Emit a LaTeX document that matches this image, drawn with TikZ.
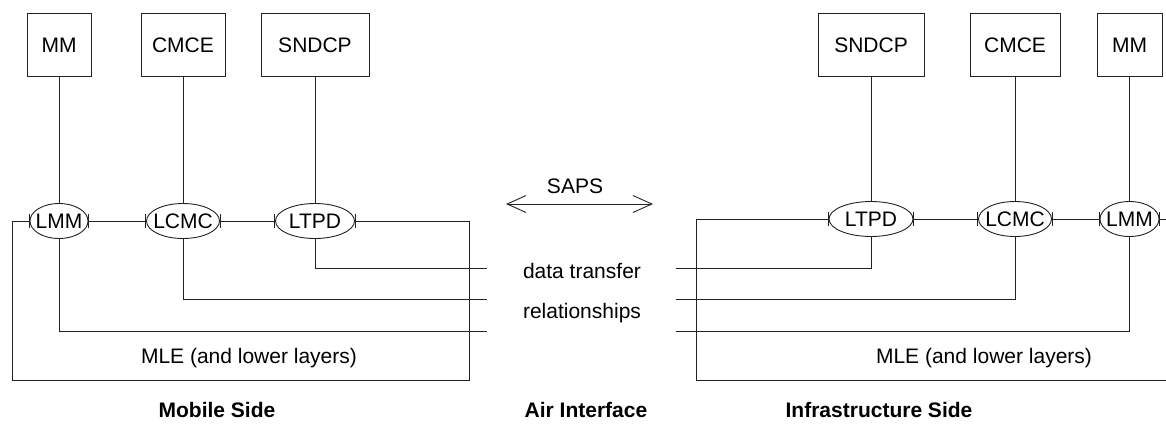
\documentclass[tikz,border=0pt]{standalone}
\usepackage{fontspec}
\setmainfont{Liberation Sans}
\usetikzlibrary{arrows.meta,shapes.geometric}
\definecolor{lineGray}{HTML}{222222}

\begin{document}
\begin{tikzpicture}[x=1pt, y=-1pt, line width=0.9pt, draw=lineGray,
    every node/.style={font=\fontsize{21}{25}\selectfont},
    layer/.style={draw=lineGray, inner sep=0pt, minimum height=63},
    lent/.style={draw=lineGray, ellipse, inner sep=0pt, minimum height=35},
    side/.style={font=\fontsize{21}{25}\selectfont\bfseries},
    bars/.style={{Bar[width=14pt]}-{Bar[width=14pt]}},
    lbar/.style={{Bar[width=14pt]}-},
    saps/.style={{Straight Barb[length=19pt,width=17pt]}-{Straight Barb[length=19pt,width=17pt]}}]
  \useasboundingbox (0,0) rectangle (1166,426);

  \foreach \nm/\x/\w/\lab in {mmA/59/64/MM, cmceA/183/84/CMCE, sndcpA/315/108/SNDCP,
      sndcpB/871/106/SNDCP, cmceB/1015/90/CMCE, mmB/1129.5/65/MM}
    \node[layer, minimum width=\w] (\nm) at (\x,45) {\lab};
  \foreach \nm/\x/\y/\w/\lab in {lmmA/59/221/58/LMM, lcmcA/183/221/73/LCMC, ltpdA/315/221/79/LTPD,
      ltpdB/871/219/84/LTPD, lcmcB/1015/219/73/LCMC, lmmB/1129.5/219/59/LMM}
    \node[lent, minimum width=\w] (\nm) at (\x,\y) {\makebox[0pt]{\lab}};
  \foreach \a/\b in {mmA/lmmA, cmceA/lcmcA, sndcpA/ltpdA, sndcpB/ltpdB, cmceB/lcmcB, mmB/lmmB}
    \draw (\a.south) -- (\b.north);

  \draw[bars] (lmmA.east) -- (lcmcA.west);
  \draw[bars] (lcmcA.east) -- (ltpdA.west);
  \draw[bars] (ltpdB.east) -- (lcmcB.west);
  \draw[bars] (lcmcB.east) -- (lmmB.west);

  \coordinate (mleAtl) at (12,221);
  \coordinate (mleAbl) at (12,380);
  \coordinate (mleAbr) at (469,380);
  \coordinate (mleAtr) at (469,221);
  \draw[bars] (lmmA.west) -- (mleAtl) -- (mleAbl) -- (mleAbr) -- (mleAtr) -- (ltpdA.east);
  \coordinate (mleBtl) at (696,219);
  \coordinate (mleBbl) at (696,380);
  \coordinate (mleBbr) at (1180,380);
  \coordinate (mleBtr) at (1180,219);
  \draw[lbar] (ltpdB.west) -- (mleBtl) -- (mleBbl) -- (mleBbr);
  \draw[lbar] (lmmB.east) -- (mleBtr);

  \coordinate (dtA) at (487,268);
  \coordinate (relA) at (487,299);
  \coordinate (mgA) at (487,331);
  \coordinate (dtB) at (676,268);
  \coordinate (relB) at (676,299);
  \coordinate (mgB) at (676,331);
  \draw (ltpdA.south) |- (dtA);
  \draw (lcmcA.south) |- (relA);
  \draw (lmmA.south) |- (mgA);
  \draw (ltpdB.south) |- (dtB);
  \draw (lcmcB.south) |- (relB);
  \draw (lmmB.south) |- (mgB);

  \node (sapsTxt) at (575,186) {SAPS};
  \coordinate (sapsL) at (506,204);
  \coordinate (sapsR) at (653,204);
  \draw[saps] (sapsL) -- (sapsR);
  \node (dataTr) at (582,271) {data transfer};
  \node (relTxt) at (582,313) {relationships};

  \node (mleTxtA) at (249,358) {MLE (and lower layers)};
  \node (mleTxtB) at (984,358) {MLE (and lower layers)};

  \node[side] (mobile) at (217,410) {Mobile Side};
  \node[side] (air) at (586,410) {Air Interface};
  \node[side] (infra) at (879,410) {Infrastructure Side};
\end{tikzpicture}
\end{document}
